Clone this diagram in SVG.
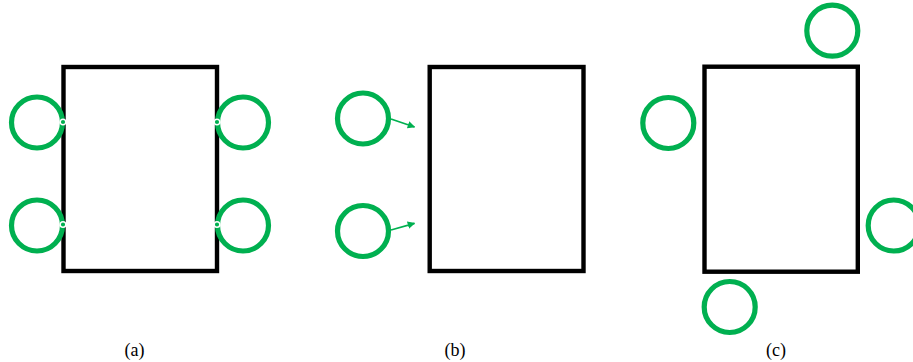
<svg xmlns="http://www.w3.org/2000/svg" width="913" height="362" viewBox="0 0 913 362">
<defs>
<style>
.box{fill:#fff;stroke:#000;stroke-width:4.4}
.ring{fill:none;stroke:#00b050;stroke-width:5.2}
.dot{fill:#00b050;stroke:#fff;stroke-width:1.4}
.conn{stroke:#00b050;stroke-width:1.8;fill:none}
.lbl{font-family:"Liberation Serif",serif;font-size:18px;fill:#000;text-anchor:middle}
</style>
<marker id="ah" viewBox="0 0 10 10" refX="9" refY="5" markerWidth="4.2" markerHeight="4.2" orient="auto" markerUnits="strokeWidth">
<path d="M0,0 L10,5 L0,10 Z" fill="#00b050"/>
</marker>
</defs>
<g id="panel-a">
<g id="a-box"><rect class="box" x="63.5" y="67" width="153.5" height="204"/></g>
<g id="a-ring1"><circle class="ring" cx="37" cy="122.5" r="25.5"/></g>
<g id="a-ring2"><circle class="ring" cx="37" cy="225.5" r="25.5"/></g>
<g id="a-ring3"><circle class="ring" cx="243" cy="122.5" r="25.5"/></g>
<g id="a-ring4"><circle class="ring" cx="243" cy="225.5" r="25.5"/></g>
<g id="a-dots">
<circle class="dot" cx="63" cy="122" r="2.8"/>
<circle class="dot" cx="63" cy="224.5" r="2.8"/>
<circle class="dot" cx="217" cy="122" r="2.8"/>
<circle class="dot" cx="217" cy="224.5" r="2.8"/>
</g>
<text class="lbl" x="134.5" y="356">(a)</text>
</g>
<g id="panel-b">
<g id="b-box"><rect class="box" x="429.7" y="67" width="153.8" height="204"/></g>
<g id="b-ring1"><circle class="ring" cx="363" cy="118.5" r="25.5"/></g>
<g id="b-ring2"><circle class="ring" cx="363" cy="231" r="25.5"/></g>
<g id="connectors">
<line class="conn" x1="391" y1="119" x2="414.5" y2="127" marker-end="url(#ah)"/>
<line class="conn" x1="391" y1="230" x2="414.5" y2="223.3" marker-end="url(#ah)"/>
</g>
<text class="lbl" x="455" y="356">(b)</text>
</g>
<g id="panel-c">
<g id="c-box"><rect class="box" x="704.5" y="66.7" width="153.3" height="205"/></g>
<g id="c-ring-top"><circle class="ring" cx="832.3" cy="30.7" r="25.5"/></g>
<g id="c-ring-left"><circle class="ring" cx="668.3" cy="123" r="25.5"/></g>
<g id="c-ring-right"><circle class="ring" cx="893.7" cy="225.5" r="25.5"/></g>
<g id="c-ring-bottom"><circle class="ring" cx="729.7" cy="307" r="25.5"/></g>
<text class="lbl" x="776" y="356">(c)</text>
</g>
</svg>
